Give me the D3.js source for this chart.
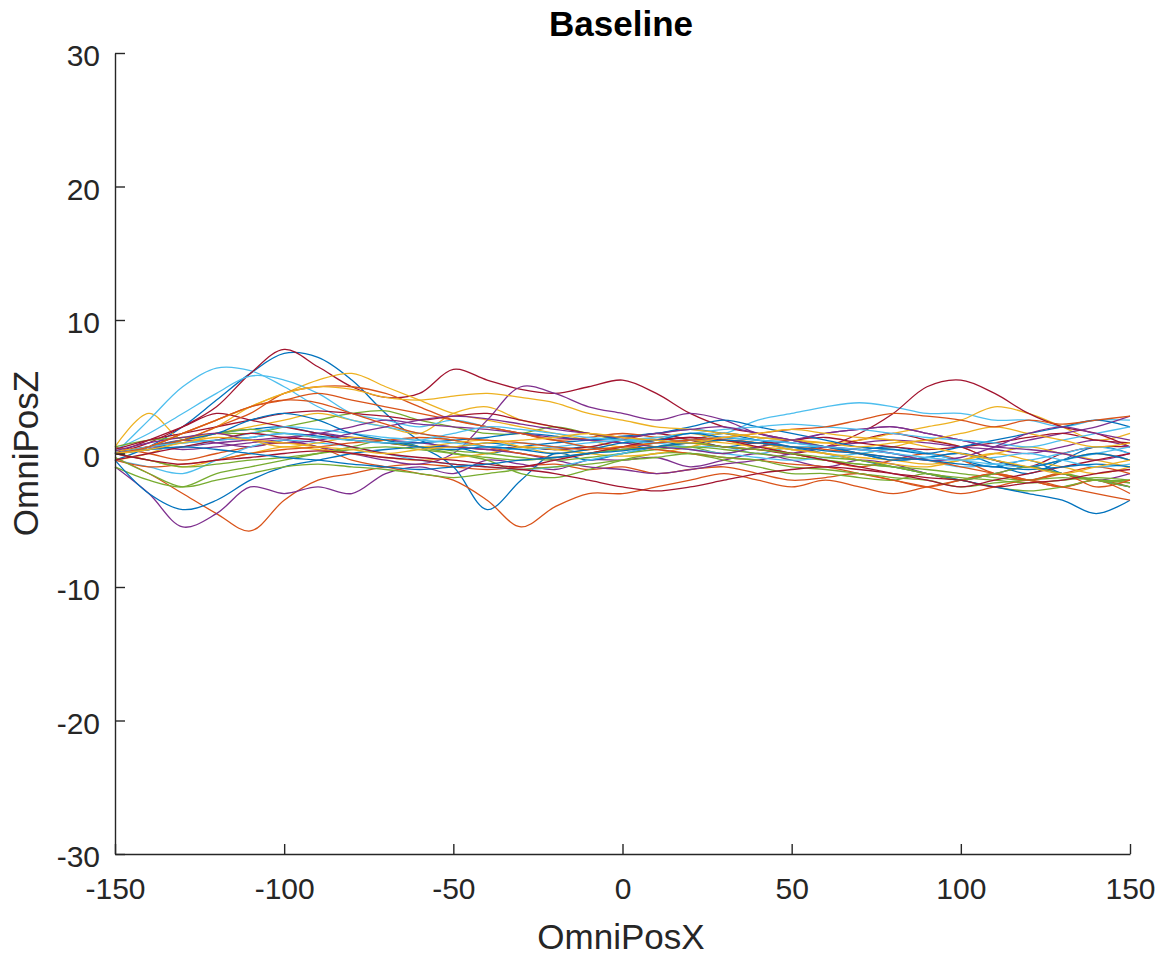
<!DOCTYPE html>
<html><head><meta charset="utf-8">
<script src="https://cdn.jsdelivr.net/npm/d3@7"></script>
<style>body{margin:0;background:#fff}svg{display:block}</style>
</head><body>
<script>
const xValues = d3.range(-150, 151, 10);
const xTicks = [-150, -100, -50, 0, 50, 100, 150];
const yTicks = [-30, -20, -10, 0, 10, 20, 30];
const colors = ["#0072BD","#D95319","#EDB120","#7E2F8E","#77AC30","#4DBEEE","#A2142F"];
const title = "Baseline", xLabel = "OmniPosX", yLabel = "OmniPosZ";

const s0 = [-0.5,0.5,2,4,6,7.5,7.2,5.5,3,1,0.5,0.8,0.5,0.3,0.5,0.3,0.8,1,0.5,0.8,0.3,0.5,0,-0.5,-0.3,0,-0.8,-1.5,-0.5,0.5,0];
const s1 = [-0.3,-1.5,-3,-4.5,-5.8,-3.5,-2,-1.5,-1,-0.8,-1,-1.2,-1,-0.8,-1.2,-1,-1.5,-1.2,-1,-1.5,-2,-1.8,-1.5,-2,-2.5,-2,-1.5,-2,-2.5,-2,-2.5];
const s2 = [0.5,3,1,1.5,2,2.5,3,2.5,2,1.5,3,3.5,2.5,2,1.5,1,1.2,1.5,1,0.5,1,0.5,0,0.5,1,0.5,-0.5,-1,-0.5,0,-0.5];
const s3 = [-1,-3,-5.5,-4.5,-2.5,-3,-2.5,-3,-1.5,-1,-1.5,-0.5,-0.8,-1.2,-0.5,-0.5,-0.3,-1,-0.5,0,-0.5,-1,-0.5,-0.8,-1.5,-2,-1.5,-1,-1.5,-2,-1.5];
const s4 = [0,0.5,1,1.5,1.5,2,2.5,3,3.2,2.5,2,1.5,1.5,2,1.5,1,0.5,0.5,0,0.5,0,-0.5,-0.8,-1,-1.2,-1.5,-1.8,-2,-1.5,-2,-2];
const s5 = [0,2.5,5,6.4,6.2,5,3.5,2.5,2,1.5,1,0.5,0.8,0.5,0,0.5,1,1.5,1.5,2.5,3,3.5,3.8,3.5,3,3,2.5,2.5,2,2.5,2.5];
const s6 = [0,0.8,2,3.5,6,7.8,6.5,5,4.2,4.5,6.3,5.5,4.8,4.5,5,5.5,4.5,3,2,1.5,1,0.5,1,1.5,1,0.5,-0.5,-1,0,0.5,0.5];
const s7 = [0,0.3,1,1.5,1.8,2,1.5,1.2,1,0.5,-1,-4.2,-2,0,-0.5,0,0.5,1,1.5,1.2,1,0.5,0.3,0.5,0,-0.5,-1,-0.5,-1.5,-2,-2.5];
const s8 = [0.5,0,-0.5,0,0.5,0.8,0.5,-0.5,-1,-1.5,-2,-3.5,-5.5,-4,-3,-3,-2.5,-2,-1.5,-2,-2.5,-2,-2.5,-3,-2.5,-2,-1.5,-2,-2.5,-2,-3];
const s9 = [-0.5,0,1,2,3.5,4.5,5.5,6,5,4,3,2.5,2,1.5,1,0.5,0.8,1,1.5,1.2,1,0.8,1,1.5,2,2.5,3.5,3,2,1,1.5];
const s10 = [0,0.5,0.3,0.5,0.8,1,0.5,0,-0.5,-0.8,0,2.5,5,4.5,3.5,3,2.5,3,2.5,1.5,1,1.5,1.8,2,1.5,1,0.5,1,1.5,2,2.8];
const s11 = [-1,-2,-2.5,-1.5,-1,-0.5,0,0.5,1,0.5,0,-0.5,-1.5,-1.8,-1.2,-0.5,0,0,-0.5,-1,-1.5,-1.5,-1.8,-2,-1.5,-2,-2.5,-2.8,-2.5,-2,-2.2];
const s12 = [0.3,1.5,3,4.5,5.8,5.5,4.5,3,2.5,2,2.5,2,1.5,1,0.5,1,0.8,0.5,0.5,0,0.5,0.5,0.3,0,-0.5,-1,-0.8,-0.5,0,0.5,0];
const s13 = [0,1,2,3,2.5,2,1.5,1,0.8,0.5,0.5,0.3,0.5,0.3,0.5,1,1.5,1,0.5,0.3,0,0.5,1.5,3,5,5.5,4.5,3,2,1.5,0.5];
const s14 = [-0.5,-3,-4.2,-3.5,-2,-1,-0.5,0,0.3,0.5,0.5,0,0.5,0.8,1,1.3,1.5,1.8,1.5,1,0.5,0,-0.5,-1,-1.5,-2,-2.5,-3,-3.5,-4.5,-3.5];
const s15 = [0,0.5,1.5,2.5,3.5,4,4.5,4,3.5,3,2.5,2,1.5,1,1.2,1.5,1.2,0.8,0.5,0.3,0,-0.5,-1,-0.5,0,-0.5,-1.5,-2,-1.5,-1,-1.5];
const s16 = [0,-0.5,-1,-0.5,0,0.5,0.3,0,-0.3,-0.5,-0.3,0,0.5,0.3,0,-0.2,0,0.5,1,0.8,0.3,0,-0.5,-0.8,-1,-0.5,0,-0.5,-1,-1.5,-1];
const s17 = [0,0.5,1,0.8,0.5,1,1.5,1.2,1,0.8,0.5,0.3,0,-0.5,-1,-1.2,-1.5,-1.2,-0.8,-0.5,0,0.5,0.8,1,0.8,0.5,0.3,0,0.5,1,0.5];
const s18 = [0.5,1,1.2,1.5,1.8,1.5,1.2,1,0.8,0.5,0.2,0,-0.3,-0.5,-0.3,0,0.3,0.5,0.3,0,-0.3,-0.5,-0.8,-1,-1.5,-1.8,-2,-2.2,-2,-1.8,-2];
const s19 = [-0.5,-1,-1.5,-0.5,0.5,1,0.8,0.5,0,-0.5,-0.8,-1,-1.2,-1,-0.5,0,0.5,0.3,0,-0.3,-0.5,-0.3,0,0.3,0,-0.5,-0.8,-1,-0.5,0,0.5];
const s20 = [0.3,1,1.5,2,2.5,3,3.2,3,2.8,2.5,2.8,3,2.5,2,1.5,1.2,1,1.2,1,0.8,1,1.2,0.8,0.5,0.3,0.5,0.8,1.2,1.5,1,0.8];
const s21 = [0,0.5,0.8,1,1.2,1.5,1.3,1,0.8,0.8,1,1.2,1.5,1.3,1,1.2,1.5,2,2.5,2,1.5,1,0.5,0.3,0,0.5,1,1.5,2,2.5,2];
const s22 = [-0.5,-1,-0.8,-0.5,0,0.3,0.5,0.8,1,1.2,1,0.5,0,-0.3,0,0.5,0.3,0,-0.3,-0.5,-0.8,-1,-1.5,-2,-2.5,-3,-2.5,-2,-2.5,-3,-3.5];
const s23 = [0.2,0.5,1,1.5,1,0.5,0.8,1.2,1,0.5,0.8,1,0.5,0,0.3,0.5,0.8,1,0.8,0.5,0.3,0,-0.3,-0.5,-0.8,-0.5,0,0.5,0,-0.5,-1];
const s24 = [0,0.3,0.5,0.8,1,1.2,1.5,2,2.5,2.2,2,1.8,1.5,1.2,1,0.8,0.5,0.3,0,0.5,1,1.5,1.8,2,1.5,1,0.5,0.3,0,-0.5,0];
const s25 = [-0.3,-1.5,-2.5,-2,-1.5,-1,-0.8,-1,-1.2,-1.5,-1.8,-1.5,-1.2,-1,-0.8,-0.5,-0.3,0,-0.3,-0.5,-1,-1.2,-1.5,-1.8,-2,-2.5,-2.2,-2,-1.8,-2,-2.2];
const s26 = [0,0.3,0.5,1,1.5,2,1.8,1.5,1.2,1,0.8,0.5,0.3,0.5,0.8,1,1.2,1.5,1.8,2,2.2,2,1.8,1.5,1.2,1,0.8,0.5,1,1.5,2];
const s27 = [-0.5,0,0.5,1,1.5,1.2,1,0.5,0,-0.3,-0.5,-0.8,-1,-0.5,0,0.5,1,1.2,1,0.5,0,-0.5,-1,-1.5,-2,-2.5,-2,-1.5,-1,-0.5,0];
const s28 = [0,0.5,1,1.5,2.5,3,2.5,1.5,1,0.5,0.3,0.5,0.3,0,0.3,0.8,1,1.5,1.2,1,0.8,0.5,0,-0.5,-0.3,0,-0.5,-1,-0.5,0,-0.5];
const s29 = [0,0.5,1,2,3,4.5,5,5,4.5,3.5,2.5,2,1.5,1,0.5,0.3,0.5,0.8,1,0.8,0.5,0.3,0,-0.3,-0.5,-1,-1.5,-2,-1.5,-2.5,-2];
const s30 = [0,0.5,1.5,2.5,3.5,4.5,5,4.8,4.2,4,4.3,4.5,4.2,3.8,3,2.5,2,1.8,1.5,1.2,1,0.8,0.5,0.8,1,1.5,2,1.5,1,0.5,0.8];
const s31 = [0.2,0.8,1.2,1.5,1,0.8,1,1.5,2,2.5,2.8,2.6,2.2,1.8,1.5,1.2,1.5,1.8,2,1.5,1,0.5,0.3,0,-0.5,-0.3,0.5,1.5,2,1.5,1];
const s32 = [0,-0.5,-1,-0.8,-0.5,-0.3,0,0.3,0.5,0.3,0,-0.3,-0.5,-0.3,0,0.3,0.5,0.8,0.5,0.3,0,-0.3,-0.5,-1,-1.5,-2,-1.5,-1,-1.5,-2,-2.5];
const s33 = [0,0.5,0.8,1,1.2,1.5,1.2,1,0.8,1,1.5,2,1.8,1.5,1.2,1,0.8,1,1.2,1,0.8,0.5,0.3,0,-0.3,-0.5,-0.3,0,-0.5,-1,-0.8];
const s34 = [0,-0.5,-0.8,-0.5,-0.3,0,0.2,0,-0.3,-0.5,-0.8,-1,-1.2,-1.5,-2,-2.5,-2.8,-2.5,-2,-1.5,-1.2,-1,-1.2,-1.5,-1.8,-2,-2.5,-2.2,-2,-1.5,-1.2];
const s35 = [0,0.3,0.5,0.3,0,-0.3,-0.5,-0.8,-1,-1.2,-1,-0.8,-0.5,-0.3,0,0.2,0.5,0.8,1,0.8,0.5,0.2,0,-0.3,-0.5,-0.8,-1,-1.2,-1,-0.8,-1];
const s36 = [0,0.5,1.5,2.5,3.5,4,3.8,3,2.2,1.5,1.2,1,0.8,0.5,0.3,0.5,0.8,1,1.2,1.5,1.8,2,2.5,3,2.8,2.5,2,2.5,2.2,2.5,2.8];
const s37 = [0,0.3,0.8,1.2,1,0.8,0.5,0.3,0,0.3,0.5,0.8,1,1.2,1.5,1.2,1,0.8,1.2,1.5,1.8,1.5,1.2,1,0.5,0,-0.5,-1,-1.5,-1,-0.5];
const series = [s0,s1,s2,s3,s4,s5,s6,s7,s8,s9,s10,s11,s12,s13,s14,s15,s16,s17,s18,s19,s20,s21,s22,s23,s24,s25,s26,s27,s28,s29,s30,s31,s32,s33,s34,s35,s36,s37];

const W = 1162, H = 957;
const svg = d3.select("body").append("svg").attr("width", W).attr("height", H);
const x = d3.scaleLinear().domain([-150, 150]).range([115, 1130]);
const y = d3.scaleLinear().domain([-30, 30]).range([854, 53]);
const axisColor = "#262626";
const font = "'Liberation Sans', Arial, sans-serif";

const line = d3.line().x((d, i) => x(xValues[i])).y(d => y(d)).curve(d3.curveCatmullRom.alpha(0.5));
svg.append("g").selectAll("path").data(series).join("path")
  .attr("d", d => line(d)).attr("fill", "none")
  .attr("stroke", (d, i) => colors[i % colors.length]).attr("stroke-width", 1.3);

const fmt = d => String(d);
const xAxis = svg.append("g").attr("transform", `translate(0,${y(-30)})`)
  .call(d3.axisBottom(x).tickValues(xTicks).tickFormat(fmt).tickSizeInner(-10).tickSizeOuter(0).tickPadding(24));
const yAxis = svg.append("g").attr("transform", `translate(${x(-150)},0)`)
  .call(d3.axisLeft(y).tickValues(yTicks).tickFormat(fmt).tickSizeInner(-10).tickSizeOuter(0).tickPadding(15));
[xAxis, yAxis].forEach(a => {
  a.select(".domain").attr("stroke", axisColor).attr("stroke-width", 1.4);
  a.selectAll(".tick line").attr("stroke", axisColor).attr("stroke-width", 1.4);
  a.selectAll("text").attr("fill", axisColor).style("font-family", font).style("font-size", "30px");
});
yAxis.selectAll("text").attr("dy", "0.42em");

svg.append("text").attr("x", 621).attr("y", 36).attr("text-anchor", "middle")
  .style("font-family", font).style("font-size", "35px").style("font-weight", "bold").attr("fill", "#000").text(title);
svg.append("text").attr("x", 621).attr("y", 949).attr("text-anchor", "middle")
  .style("font-family", font).style("font-size", "35px").attr("fill", axisColor).text(xLabel);
svg.append("text").attr("transform", `translate(38,${y(0)}) rotate(-90)`).attr("text-anchor", "middle")
  .style("font-family", font).style("font-size", "35px").attr("fill", axisColor).text(yLabel);
</script>
</body></html>
